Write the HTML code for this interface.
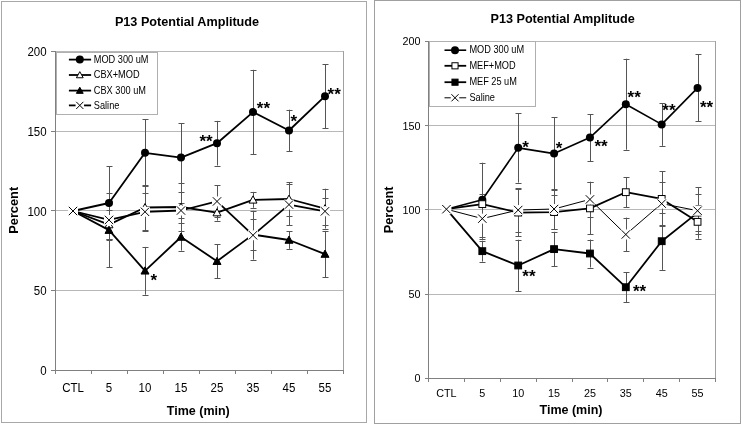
<!DOCTYPE html>
<html><head><meta charset="utf-8"><style>html,body{margin:0;padding:0;background:#fff;width:742px;height:424px;overflow:hidden}svg text{font-family:"Liberation Sans", sans-serif;fill:#000}</style></head>
<body>
<svg width="742" height="424" viewBox="0 0 742 424" style="display:block;will-change:transform" font-family='"Liberation Sans", sans-serif' shape-rendering="auto">
<rect width="742" height="424" fill="#fff"/>
<rect x="1.5" y="1.5" width="365" height="421" fill="#fff" stroke="#a8a8a8" stroke-width="1"/>
<line x1="55" y1="290.5" x2="343.5" y2="290.5" stroke="#b8b8b8" stroke-width="1"/>
<line x1="55" y1="210.5" x2="343.5" y2="210.5" stroke="#b8b8b8" stroke-width="1"/>
<line x1="55" y1="131.5" x2="343.5" y2="131.5" stroke="#b8b8b8" stroke-width="1"/>
<line x1="55" y1="51.5" x2="343.5" y2="51.5" stroke="#b8b8b8" stroke-width="1"/>
<line x1="343.5" y1="51" x2="343.5" y2="370" stroke="#a0a0a0" stroke-width="1"/>
<line x1="55.5" y1="51" x2="55.5" y2="370.5" stroke="#808080" stroke-width="1"/>
<line x1="55" y1="370.5" x2="344" y2="370.5" stroke="#808080" stroke-width="1"/>
<line x1="51" y1="370.5" x2="55" y2="370.5" stroke="#808080" stroke-width="1"/>
<text x="46.6" y="375.20" text-anchor="end" font-size="12" textLength="6.40" lengthAdjust="spacingAndGlyphs">0</text>
<line x1="51" y1="290.5" x2="55" y2="290.5" stroke="#808080" stroke-width="1"/>
<text x="46.6" y="295.45" text-anchor="end" font-size="12" textLength="12.79" lengthAdjust="spacingAndGlyphs">50</text>
<line x1="51" y1="210.5" x2="55" y2="210.5" stroke="#808080" stroke-width="1"/>
<text x="46.6" y="215.70" text-anchor="end" font-size="12" textLength="19.19" lengthAdjust="spacingAndGlyphs">100</text>
<line x1="51" y1="131.5" x2="55" y2="131.5" stroke="#808080" stroke-width="1"/>
<text x="46.6" y="135.95" text-anchor="end" font-size="12" textLength="19.19" lengthAdjust="spacingAndGlyphs">150</text>
<line x1="51" y1="51.5" x2="55" y2="51.5" stroke="#808080" stroke-width="1"/>
<text x="46.6" y="56.20" text-anchor="end" font-size="12" textLength="19.19" lengthAdjust="spacingAndGlyphs">200</text>
<line x1="55.5" y1="370" x2="55.5" y2="374" stroke="#808080" stroke-width="1"/>
<line x1="91.5" y1="370" x2="91.5" y2="374" stroke="#808080" stroke-width="1"/>
<line x1="127.5" y1="370" x2="127.5" y2="374" stroke="#808080" stroke-width="1"/>
<line x1="163.5" y1="370" x2="163.5" y2="374" stroke="#808080" stroke-width="1"/>
<line x1="199.5" y1="370" x2="199.5" y2="374" stroke="#808080" stroke-width="1"/>
<line x1="235.5" y1="370" x2="235.5" y2="374" stroke="#808080" stroke-width="1"/>
<line x1="271.5" y1="370" x2="271.5" y2="374" stroke="#808080" stroke-width="1"/>
<line x1="307.5" y1="370" x2="307.5" y2="374" stroke="#808080" stroke-width="1"/>
<line x1="343.5" y1="370" x2="343.5" y2="374" stroke="#808080" stroke-width="1"/>
<text x="73.0" y="392" text-anchor="middle" font-size="12" textLength="21.73" lengthAdjust="spacingAndGlyphs">CTL</text>
<text x="109.0" y="392" text-anchor="middle" font-size="12" textLength="6.40" lengthAdjust="spacingAndGlyphs">5</text>
<text x="145.0" y="392" text-anchor="middle" font-size="12" textLength="12.79" lengthAdjust="spacingAndGlyphs">10</text>
<text x="181.0" y="392" text-anchor="middle" font-size="12" textLength="12.79" lengthAdjust="spacingAndGlyphs">15</text>
<text x="217.0" y="392" text-anchor="middle" font-size="12" textLength="12.79" lengthAdjust="spacingAndGlyphs">25</text>
<text x="253.0" y="392" text-anchor="middle" font-size="12" textLength="12.79" lengthAdjust="spacingAndGlyphs">35</text>
<text x="289.0" y="392" text-anchor="middle" font-size="12" textLength="12.79" lengthAdjust="spacingAndGlyphs">45</text>
<text x="325.0" y="392" text-anchor="middle" font-size="12" textLength="12.79" lengthAdjust="spacingAndGlyphs">55</text>
<text x="187" y="26.3" text-anchor="middle" font-size="12.65" font-weight="bold">P13 Potential Amplitude</text>
<text transform="translate(18.3,210.3) rotate(-90)" text-anchor="middle" font-size="12.8" font-weight="bold">Percent</text>
<text x="198.3" y="414.9" text-anchor="middle" font-size="12.5" font-weight="bold">Time (min)</text>
<line x1="109.5" y1="166.3" x2="109.5" y2="239.7" stroke="#555555" stroke-width="1"/>
<line x1="106.5" y1="166.5" x2="112.5" y2="166.5" stroke="#555555" stroke-width="1"/>
<line x1="106.5" y1="240.5" x2="112.5" y2="240.5" stroke="#555555" stroke-width="1"/>
<line x1="145.5" y1="119.3" x2="145.5" y2="186.3" stroke="#555555" stroke-width="1"/>
<line x1="142.5" y1="119.5" x2="148.5" y2="119.5" stroke="#555555" stroke-width="1"/>
<line x1="142.5" y1="186.5" x2="148.5" y2="186.5" stroke="#555555" stroke-width="1"/>
<line x1="181.5" y1="123.3" x2="181.5" y2="191.9" stroke="#555555" stroke-width="1"/>
<line x1="178.5" y1="123.5" x2="184.5" y2="123.5" stroke="#555555" stroke-width="1"/>
<line x1="178.5" y1="192.5" x2="184.5" y2="192.5" stroke="#555555" stroke-width="1"/>
<line x1="217.5" y1="120.9" x2="217.5" y2="165.5" stroke="#555555" stroke-width="1"/>
<line x1="214.5" y1="121.5" x2="220.5" y2="121.5" stroke="#555555" stroke-width="1"/>
<line x1="214.5" y1="166.5" x2="220.5" y2="166.5" stroke="#555555" stroke-width="1"/>
<line x1="253.5" y1="69.8" x2="253.5" y2="154.4" stroke="#555555" stroke-width="1"/>
<line x1="250.5" y1="70.5" x2="256.5" y2="70.5" stroke="#555555" stroke-width="1"/>
<line x1="250.5" y1="154.5" x2="256.5" y2="154.5" stroke="#555555" stroke-width="1"/>
<line x1="289.5" y1="109.7" x2="289.5" y2="151.2" stroke="#555555" stroke-width="1"/>
<line x1="286.5" y1="110.5" x2="292.5" y2="110.5" stroke="#555555" stroke-width="1"/>
<line x1="286.5" y1="151.5" x2="292.5" y2="151.5" stroke="#555555" stroke-width="1"/>
<line x1="325.5" y1="64.3" x2="325.5" y2="128.1" stroke="#555555" stroke-width="1"/>
<line x1="322.5" y1="64.5" x2="328.5" y2="64.5" stroke="#555555" stroke-width="1"/>
<line x1="322.5" y1="128.5" x2="328.5" y2="128.5" stroke="#555555" stroke-width="1"/>
<line x1="109.5" y1="210.2" x2="109.5" y2="238.9" stroke="#555555" stroke-width="1"/>
<line x1="106.5" y1="210.5" x2="112.5" y2="210.5" stroke="#555555" stroke-width="1"/>
<line x1="106.5" y1="239.5" x2="112.5" y2="239.5" stroke="#555555" stroke-width="1"/>
<line x1="145.5" y1="185.2" x2="145.5" y2="229.8" stroke="#555555" stroke-width="1"/>
<line x1="142.5" y1="185.5" x2="148.5" y2="185.5" stroke="#555555" stroke-width="1"/>
<line x1="142.5" y1="230.5" x2="148.5" y2="230.5" stroke="#555555" stroke-width="1"/>
<line x1="181.5" y1="183.1" x2="181.5" y2="230.9" stroke="#555555" stroke-width="1"/>
<line x1="178.5" y1="183.5" x2="184.5" y2="183.5" stroke="#555555" stroke-width="1"/>
<line x1="178.5" y1="231.5" x2="184.5" y2="231.5" stroke="#555555" stroke-width="1"/>
<line x1="217.5" y1="204.6" x2="217.5" y2="220.6" stroke="#555555" stroke-width="1"/>
<line x1="214.5" y1="205.5" x2="220.5" y2="205.5" stroke="#555555" stroke-width="1"/>
<line x1="214.5" y1="221.5" x2="220.5" y2="221.5" stroke="#555555" stroke-width="1"/>
<line x1="253.5" y1="191.9" x2="253.5" y2="207.8" stroke="#555555" stroke-width="1"/>
<line x1="250.5" y1="192.5" x2="256.5" y2="192.5" stroke="#555555" stroke-width="1"/>
<line x1="250.5" y1="208.5" x2="256.5" y2="208.5" stroke="#555555" stroke-width="1"/>
<line x1="289.5" y1="182.3" x2="289.5" y2="215.8" stroke="#555555" stroke-width="1"/>
<line x1="286.5" y1="182.5" x2="292.5" y2="182.5" stroke="#555555" stroke-width="1"/>
<line x1="286.5" y1="216.5" x2="292.5" y2="216.5" stroke="#555555" stroke-width="1"/>
<line x1="325.5" y1="188.7" x2="325.5" y2="228.5" stroke="#555555" stroke-width="1"/>
<line x1="322.5" y1="189.5" x2="328.5" y2="189.5" stroke="#555555" stroke-width="1"/>
<line x1="322.5" y1="229.5" x2="328.5" y2="229.5" stroke="#555555" stroke-width="1"/>
<line x1="109.5" y1="193.1" x2="109.5" y2="267.1" stroke="#555555" stroke-width="1"/>
<line x1="106.5" y1="193.5" x2="112.5" y2="193.5" stroke="#555555" stroke-width="1"/>
<line x1="106.5" y1="267.5" x2="112.5" y2="267.5" stroke="#555555" stroke-width="1"/>
<line x1="145.5" y1="246.9" x2="145.5" y2="294.7" stroke="#555555" stroke-width="1"/>
<line x1="142.5" y1="247.5" x2="148.5" y2="247.5" stroke="#555555" stroke-width="1"/>
<line x1="142.5" y1="295.5" x2="148.5" y2="295.5" stroke="#555555" stroke-width="1"/>
<line x1="181.5" y1="223.4" x2="181.5" y2="250.6" stroke="#555555" stroke-width="1"/>
<line x1="178.5" y1="223.5" x2="184.5" y2="223.5" stroke="#555555" stroke-width="1"/>
<line x1="178.5" y1="251.5" x2="184.5" y2="251.5" stroke="#555555" stroke-width="1"/>
<line x1="217.5" y1="244.5" x2="217.5" y2="278.0" stroke="#555555" stroke-width="1"/>
<line x1="214.5" y1="244.5" x2="220.5" y2="244.5" stroke="#555555" stroke-width="1"/>
<line x1="214.5" y1="278.5" x2="220.5" y2="278.5" stroke="#555555" stroke-width="1"/>
<line x1="253.5" y1="219.5" x2="253.5" y2="249.8" stroke="#555555" stroke-width="1"/>
<line x1="250.5" y1="219.5" x2="256.5" y2="219.5" stroke="#555555" stroke-width="1"/>
<line x1="250.5" y1="250.5" x2="256.5" y2="250.5" stroke="#555555" stroke-width="1"/>
<line x1="289.5" y1="231.3" x2="289.5" y2="248.8" stroke="#555555" stroke-width="1"/>
<line x1="286.5" y1="231.5" x2="292.5" y2="231.5" stroke="#555555" stroke-width="1"/>
<line x1="286.5" y1="249.5" x2="292.5" y2="249.5" stroke="#555555" stroke-width="1"/>
<line x1="325.5" y1="230.9" x2="325.5" y2="277.2" stroke="#555555" stroke-width="1"/>
<line x1="322.5" y1="231.5" x2="328.5" y2="231.5" stroke="#555555" stroke-width="1"/>
<line x1="322.5" y1="277.5" x2="328.5" y2="277.5" stroke="#555555" stroke-width="1"/>
<line x1="109.5" y1="200.8" x2="109.5" y2="239.1" stroke="#555555" stroke-width="1"/>
<line x1="106.5" y1="201.5" x2="112.5" y2="201.5" stroke="#555555" stroke-width="1"/>
<line x1="106.5" y1="239.5" x2="112.5" y2="239.5" stroke="#555555" stroke-width="1"/>
<line x1="145.5" y1="192.7" x2="145.5" y2="230.9" stroke="#555555" stroke-width="1"/>
<line x1="142.5" y1="193.5" x2="148.5" y2="193.5" stroke="#555555" stroke-width="1"/>
<line x1="142.5" y1="231.5" x2="148.5" y2="231.5" stroke="#555555" stroke-width="1"/>
<line x1="181.5" y1="202.5" x2="181.5" y2="218.5" stroke="#555555" stroke-width="1"/>
<line x1="178.5" y1="203.5" x2="184.5" y2="203.5" stroke="#555555" stroke-width="1"/>
<line x1="178.5" y1="218.5" x2="184.5" y2="218.5" stroke="#555555" stroke-width="1"/>
<line x1="217.5" y1="185.5" x2="217.5" y2="217.4" stroke="#555555" stroke-width="1"/>
<line x1="214.5" y1="185.5" x2="220.5" y2="185.5" stroke="#555555" stroke-width="1"/>
<line x1="214.5" y1="217.5" x2="220.5" y2="217.5" stroke="#555555" stroke-width="1"/>
<line x1="253.5" y1="210.8" x2="253.5" y2="259.6" stroke="#555555" stroke-width="1"/>
<line x1="250.5" y1="211.5" x2="256.5" y2="211.5" stroke="#555555" stroke-width="1"/>
<line x1="250.5" y1="260.5" x2="256.5" y2="260.5" stroke="#555555" stroke-width="1"/>
<line x1="289.5" y1="183.9" x2="289.5" y2="225.4" stroke="#555555" stroke-width="1"/>
<line x1="286.5" y1="184.5" x2="292.5" y2="184.5" stroke="#555555" stroke-width="1"/>
<line x1="286.5" y1="225.5" x2="292.5" y2="225.5" stroke="#555555" stroke-width="1"/>
<line x1="325.5" y1="197.8" x2="325.5" y2="224.9" stroke="#555555" stroke-width="1"/>
<line x1="322.5" y1="198.5" x2="328.5" y2="198.5" stroke="#555555" stroke-width="1"/>
<line x1="322.5" y1="225.5" x2="328.5" y2="225.5" stroke="#555555" stroke-width="1"/>
<polyline points="73.0,211.0 109.0,203.0 145.0,152.8 181.0,157.6 217.0,143.2 253.0,112.1 289.0,130.5 325.0,96.2" fill="none" stroke="#000" stroke-width="1.8" stroke-linejoin="round"/>
<circle cx="73.00" cy="211.00" r="4.00" fill="#000"/>
<circle cx="109.00" cy="203.03" r="4.00" fill="#000"/>
<circle cx="145.00" cy="152.78" r="4.00" fill="#000"/>
<circle cx="181.00" cy="157.57" r="4.00" fill="#000"/>
<circle cx="217.00" cy="143.21" r="4.00" fill="#000"/>
<circle cx="253.00" cy="112.11" r="4.00" fill="#000"/>
<circle cx="289.00" cy="130.45" r="4.00" fill="#000"/>
<circle cx="325.00" cy="96.16" r="4.00" fill="#000"/>
<polyline points="73.0,211.0 109.0,224.6 145.0,207.5 181.0,207.0 217.0,212.6 253.0,199.8 289.0,199.0 325.0,208.6" fill="none" stroke="#000" stroke-width="1.8" stroke-linejoin="round"/>
<polygon points="73.00,207.04 77.00,214.24 69.00,214.24" fill="#fff" stroke="#000" stroke-width="1" stroke-linejoin="miter"/>
<polygon points="109.00,220.60 113.00,227.80 105.00,227.80" fill="#fff" stroke="#000" stroke-width="1" stroke-linejoin="miter"/>
<polygon points="145.00,203.53 149.00,210.73 141.00,210.73" fill="#fff" stroke="#000" stroke-width="1" stroke-linejoin="miter"/>
<polygon points="181.00,203.05 185.00,210.25 177.00,210.25" fill="#fff" stroke="#000" stroke-width="1" stroke-linejoin="miter"/>
<polygon points="217.00,208.63 221.00,215.84 213.00,215.84" fill="#fff" stroke="#000" stroke-width="1" stroke-linejoin="miter"/>
<polygon points="253.00,195.88 257.00,203.08 249.00,203.08" fill="#fff" stroke="#000" stroke-width="1" stroke-linejoin="miter"/>
<polygon points="289.00,195.08 293.00,202.28 285.00,202.28" fill="#fff" stroke="#000" stroke-width="1" stroke-linejoin="miter"/>
<polygon points="325.00,204.65 329.00,211.85 321.00,211.85" fill="#fff" stroke="#000" stroke-width="1" stroke-linejoin="miter"/>
<polyline points="73.0,211.0 109.0,230.1 145.0,270.8 181.0,237.0 217.0,261.2 253.0,234.6 289.0,240.0 325.0,254.1" fill="none" stroke="#000" stroke-width="1.8" stroke-linejoin="round"/>
<polygon points="73.00,207.04 77.00,214.24 69.00,214.24" fill="#000" stroke="#000" stroke-width="1" stroke-linejoin="miter"/>
<polygon points="109.00,226.18 113.00,233.38 105.00,233.38" fill="#000" stroke="#000" stroke-width="1" stroke-linejoin="miter"/>
<polygon points="145.00,266.85 149.00,274.05 141.00,274.05" fill="#000" stroke="#000" stroke-width="1" stroke-linejoin="miter"/>
<polygon points="181.00,233.04 185.00,240.24 177.00,240.24" fill="#000" stroke="#000" stroke-width="1" stroke-linejoin="miter"/>
<polygon points="217.00,257.28 221.00,264.48 213.00,264.48" fill="#000" stroke="#000" stroke-width="1" stroke-linejoin="miter"/>
<polygon points="253.00,230.65 257.00,237.85 249.00,237.85" fill="#000" stroke="#000" stroke-width="1" stroke-linejoin="miter"/>
<polygon points="289.00,236.07 293.00,243.27 285.00,243.27" fill="#000" stroke="#000" stroke-width="1" stroke-linejoin="miter"/>
<polygon points="325.00,250.10 329.00,257.31 321.00,257.31" fill="#000" stroke="#000" stroke-width="1" stroke-linejoin="miter"/>
<polyline points="73.0,211.0 109.0,219.9 145.0,211.8 181.0,210.5 217.0,201.4 253.0,235.2 289.0,204.6 325.0,211.3" fill="none" stroke="#000" stroke-width="1.8" stroke-linejoin="round"/>
<rect x="68.00" y="206.00" width="10.00" height="10.00" fill="#fff"/>
<path d="M68.80,206.80L77.20,215.20M77.20,206.80L68.80,215.20" stroke="#000" stroke-width="1" fill="none"/>
<rect x="104.00" y="214.93" width="10.00" height="10.00" fill="#fff"/>
<path d="M104.80,215.73L113.20,224.13M113.20,215.73L104.80,224.13" stroke="#000" stroke-width="1" fill="none"/>
<rect x="140.00" y="206.80" width="10.00" height="10.00" fill="#fff"/>
<path d="M140.80,207.60L149.20,216.00M149.20,207.60L140.80,216.00" stroke="#000" stroke-width="1" fill="none"/>
<rect x="176.00" y="205.52" width="10.00" height="10.00" fill="#fff"/>
<path d="M176.80,206.32L185.20,214.72M185.20,206.32L176.80,214.72" stroke="#000" stroke-width="1" fill="none"/>
<rect x="212.00" y="196.43" width="10.00" height="10.00" fill="#fff"/>
<path d="M212.80,197.23L221.20,205.63M221.20,197.23L212.80,205.63" stroke="#000" stroke-width="1" fill="none"/>
<rect x="248.00" y="230.24" width="10.00" height="10.00" fill="#fff"/>
<path d="M248.80,231.04L257.20,239.44M257.20,231.04L248.80,239.44" stroke="#000" stroke-width="1" fill="none"/>
<rect x="284.00" y="199.62" width="10.00" height="10.00" fill="#fff"/>
<path d="M284.80,200.42L293.20,208.82M293.20,200.42L284.80,208.82" stroke="#000" stroke-width="1" fill="none"/>
<rect x="320.00" y="206.32" width="10.00" height="10.00" fill="#fff"/>
<path d="M320.80,207.12L329.20,215.52M329.20,207.12L320.80,215.52" stroke="#000" stroke-width="1" fill="none"/>
<text x="199.5" y="146.8" font-size="17" font-weight="bold">**</text>
<text x="256.8" y="113.80000000000001" font-size="17" font-weight="bold">**</text>
<text x="290.5" y="127.30000000000001" font-size="17" font-weight="bold">*</text>
<text x="327.6" y="99.5" font-size="17" font-weight="bold">**</text>
<text x="150.5" y="285.49999999999994" font-size="17" font-weight="bold">*</text>
<rect x="56.5" y="52.5" width="101" height="62" fill="#fff" stroke="#b0b0b0" stroke-width="1"/>
<line x1="68.9" y1="59.6" x2="91.1" y2="59.6" stroke="#000" stroke-width="1.8"/>
<circle cx="79.80" cy="59.60" r="4.00" fill="#000"/>
<text x="93.8" y="62.80" font-size="10.2" textLength="54.7" lengthAdjust="spacingAndGlyphs">MOD 300 uM</text>
<line x1="68.9" y1="75.0" x2="91.1" y2="75.0" stroke="#000" stroke-width="1.8"/>
<polygon points="79.80,71.63 83.20,77.75 76.40,77.75" fill="#fff" stroke="#000" stroke-width="1" stroke-linejoin="miter"/>
<text x="93.8" y="78.20" font-size="10.2" textLength="45.8" lengthAdjust="spacingAndGlyphs">CBX+MOD</text>
<line x1="68.9" y1="90.6" x2="91.1" y2="90.6" stroke="#000" stroke-width="1.8"/>
<polygon points="79.80,87.23 83.20,93.35 76.40,93.35" fill="#000" stroke="#000" stroke-width="1" stroke-linejoin="miter"/>
<text x="93.8" y="93.80" font-size="10.2" textLength="52.2" lengthAdjust="spacingAndGlyphs">CBX 300 uM</text>
<line x1="68.9" y1="105.4" x2="91.1" y2="105.4" stroke="#000" stroke-width="1.8"/>
<rect x="75.55" y="101.15" width="8.50" height="8.50" fill="#fff"/>
<path d="M76.23,101.83L83.37,108.97M83.37,101.83L76.23,108.97" stroke="#000" stroke-width="1" fill="none"/>
<text x="93.8" y="108.60" font-size="10.2" textLength="25.6" lengthAdjust="spacingAndGlyphs">Saline</text>
<rect x="374.5" y="0.5" width="366" height="423" fill="#fff" stroke="#a0a0a0" stroke-width="1"/>
<line x1="428" y1="294.5" x2="715.5" y2="294.5" stroke="#b8b8b8" stroke-width="1"/>
<line x1="428" y1="209.5" x2="715.5" y2="209.5" stroke="#b8b8b8" stroke-width="1"/>
<line x1="428" y1="125.5" x2="715.5" y2="125.5" stroke="#b8b8b8" stroke-width="1"/>
<line x1="428" y1="41.5" x2="715.5" y2="41.5" stroke="#b8b8b8" stroke-width="1"/>
<line x1="715.5" y1="41" x2="715.5" y2="378" stroke="#a0a0a0" stroke-width="1"/>
<line x1="428.5" y1="41" x2="428.5" y2="378.5" stroke="#808080" stroke-width="1"/>
<line x1="428" y1="378.5" x2="716" y2="378.5" stroke="#808080" stroke-width="1"/>
<line x1="425" y1="378.5" x2="428" y2="378.5" stroke="#808080" stroke-width="1"/>
<text x="420.5" y="382.30" text-anchor="end" font-size="11.5" textLength="6.01" lengthAdjust="spacingAndGlyphs">0</text>
<line x1="425" y1="294.5" x2="428" y2="294.5" stroke="#808080" stroke-width="1"/>
<text x="420.5" y="298.05" text-anchor="end" font-size="11.5" textLength="12.01" lengthAdjust="spacingAndGlyphs">50</text>
<line x1="425" y1="209.5" x2="428" y2="209.5" stroke="#808080" stroke-width="1"/>
<text x="420.5" y="213.80" text-anchor="end" font-size="11.5" textLength="18.02" lengthAdjust="spacingAndGlyphs">100</text>
<line x1="425" y1="125.5" x2="428" y2="125.5" stroke="#808080" stroke-width="1"/>
<text x="420.5" y="129.55" text-anchor="end" font-size="11.5" textLength="18.02" lengthAdjust="spacingAndGlyphs">150</text>
<line x1="425" y1="41.5" x2="428" y2="41.5" stroke="#808080" stroke-width="1"/>
<text x="420.5" y="45.30" text-anchor="end" font-size="11.5" textLength="18.02" lengthAdjust="spacingAndGlyphs">200</text>
<line x1="428.5" y1="378" x2="428.5" y2="382" stroke="#808080" stroke-width="1"/>
<line x1="464.5" y1="378" x2="464.5" y2="382" stroke="#808080" stroke-width="1"/>
<line x1="500.5" y1="378" x2="500.5" y2="382" stroke="#808080" stroke-width="1"/>
<line x1="536.5" y1="378" x2="536.5" y2="382" stroke="#808080" stroke-width="1"/>
<line x1="572.5" y1="378" x2="572.5" y2="382" stroke="#808080" stroke-width="1"/>
<line x1="607.5" y1="378" x2="607.5" y2="382" stroke="#808080" stroke-width="1"/>
<line x1="643.5" y1="378" x2="643.5" y2="382" stroke="#808080" stroke-width="1"/>
<line x1="679.5" y1="378" x2="679.5" y2="382" stroke="#808080" stroke-width="1"/>
<line x1="715.5" y1="378" x2="715.5" y2="382" stroke="#808080" stroke-width="1"/>
<text x="446.4" y="397.4" text-anchor="middle" font-size="11.5" textLength="20.40" lengthAdjust="spacingAndGlyphs">CTL</text>
<text x="482.3" y="397.4" text-anchor="middle" font-size="11.5" textLength="6.01" lengthAdjust="spacingAndGlyphs">5</text>
<text x="518.2" y="397.4" text-anchor="middle" font-size="11.5" textLength="12.01" lengthAdjust="spacingAndGlyphs">10</text>
<text x="554.1" y="397.4" text-anchor="middle" font-size="11.5" textLength="12.01" lengthAdjust="spacingAndGlyphs">15</text>
<text x="589.9" y="397.4" text-anchor="middle" font-size="11.5" textLength="12.01" lengthAdjust="spacingAndGlyphs">25</text>
<text x="625.8" y="397.4" text-anchor="middle" font-size="11.5" textLength="12.01" lengthAdjust="spacingAndGlyphs">35</text>
<text x="661.7" y="397.4" text-anchor="middle" font-size="11.5" textLength="12.01" lengthAdjust="spacingAndGlyphs">45</text>
<text x="697.6" y="397.4" text-anchor="middle" font-size="11.5" textLength="12.01" lengthAdjust="spacingAndGlyphs">55</text>
<text x="562.6" y="23.0" text-anchor="middle" font-size="12.65" font-weight="bold">P13 Potential Amplitude</text>
<text transform="translate(393,209.9) rotate(-90)" text-anchor="middle" font-size="12.8" font-weight="bold">Percent</text>
<text x="571" y="414" text-anchor="middle" font-size="12.5" font-weight="bold">Time (min)</text>
<line x1="482.5" y1="162.7" x2="482.5" y2="236.8" stroke="#555555" stroke-width="1"/>
<line x1="479.5" y1="163.5" x2="485.5" y2="163.5" stroke="#555555" stroke-width="1"/>
<line x1="479.5" y1="237.5" x2="485.5" y2="237.5" stroke="#555555" stroke-width="1"/>
<line x1="518.5" y1="113.2" x2="518.5" y2="182.6" stroke="#555555" stroke-width="1"/>
<line x1="515.5" y1="113.5" x2="521.5" y2="113.5" stroke="#555555" stroke-width="1"/>
<line x1="515.5" y1="183.5" x2="521.5" y2="183.5" stroke="#555555" stroke-width="1"/>
<line x1="554.5" y1="117.4" x2="554.5" y2="189.8" stroke="#555555" stroke-width="1"/>
<line x1="551.5" y1="117.5" x2="557.5" y2="117.5" stroke="#555555" stroke-width="1"/>
<line x1="551.5" y1="190.5" x2="557.5" y2="190.5" stroke="#555555" stroke-width="1"/>
<line x1="590.5" y1="114.2" x2="590.5" y2="161.0" stroke="#555555" stroke-width="1"/>
<line x1="587.5" y1="114.5" x2="593.5" y2="114.5" stroke="#555555" stroke-width="1"/>
<line x1="587.5" y1="161.5" x2="593.5" y2="161.5" stroke="#555555" stroke-width="1"/>
<line x1="626.5" y1="58.7" x2="626.5" y2="149.7" stroke="#555555" stroke-width="1"/>
<line x1="623.5" y1="59.5" x2="629.5" y2="59.5" stroke="#555555" stroke-width="1"/>
<line x1="623.5" y1="150.5" x2="629.5" y2="150.5" stroke="#555555" stroke-width="1"/>
<line x1="662.5" y1="103.0" x2="662.5" y2="145.8" stroke="#555555" stroke-width="1"/>
<line x1="659.5" y1="103.5" x2="665.5" y2="103.5" stroke="#555555" stroke-width="1"/>
<line x1="659.5" y1="146.5" x2="665.5" y2="146.5" stroke="#555555" stroke-width="1"/>
<line x1="698.5" y1="54.3" x2="698.5" y2="121.4" stroke="#555555" stroke-width="1"/>
<line x1="695.5" y1="54.5" x2="701.5" y2="54.5" stroke="#555555" stroke-width="1"/>
<line x1="695.5" y1="121.5" x2="701.5" y2="121.5" stroke="#555555" stroke-width="1"/>
<line x1="482.5" y1="193.7" x2="482.5" y2="214.6" stroke="#555555" stroke-width="1"/>
<line x1="479.5" y1="194.5" x2="485.5" y2="194.5" stroke="#555555" stroke-width="1"/>
<line x1="479.5" y1="215.5" x2="485.5" y2="215.5" stroke="#555555" stroke-width="1"/>
<line x1="518.5" y1="189.0" x2="518.5" y2="236.2" stroke="#555555" stroke-width="1"/>
<line x1="515.5" y1="189.5" x2="521.5" y2="189.5" stroke="#555555" stroke-width="1"/>
<line x1="515.5" y1="236.5" x2="521.5" y2="236.5" stroke="#555555" stroke-width="1"/>
<line x1="554.5" y1="195.2" x2="554.5" y2="228.9" stroke="#555555" stroke-width="1"/>
<line x1="551.5" y1="195.5" x2="557.5" y2="195.5" stroke="#555555" stroke-width="1"/>
<line x1="551.5" y1="229.5" x2="557.5" y2="229.5" stroke="#555555" stroke-width="1"/>
<line x1="590.5" y1="182.2" x2="590.5" y2="234.5" stroke="#555555" stroke-width="1"/>
<line x1="587.5" y1="182.5" x2="593.5" y2="182.5" stroke="#555555" stroke-width="1"/>
<line x1="587.5" y1="234.5" x2="593.5" y2="234.5" stroke="#555555" stroke-width="1"/>
<line x1="626.5" y1="177.4" x2="626.5" y2="207.0" stroke="#555555" stroke-width="1"/>
<line x1="623.5" y1="177.5" x2="629.5" y2="177.5" stroke="#555555" stroke-width="1"/>
<line x1="623.5" y1="207.5" x2="629.5" y2="207.5" stroke="#555555" stroke-width="1"/>
<line x1="662.5" y1="171.5" x2="662.5" y2="226.4" stroke="#555555" stroke-width="1"/>
<line x1="659.5" y1="171.5" x2="665.5" y2="171.5" stroke="#555555" stroke-width="1"/>
<line x1="659.5" y1="226.5" x2="665.5" y2="226.5" stroke="#555555" stroke-width="1"/>
<line x1="698.5" y1="205.0" x2="698.5" y2="238.7" stroke="#555555" stroke-width="1"/>
<line x1="695.5" y1="205.5" x2="701.5" y2="205.5" stroke="#555555" stroke-width="1"/>
<line x1="695.5" y1="239.5" x2="701.5" y2="239.5" stroke="#555555" stroke-width="1"/>
<line x1="482.5" y1="240.7" x2="482.5" y2="261.6" stroke="#555555" stroke-width="1"/>
<line x1="479.5" y1="241.5" x2="485.5" y2="241.5" stroke="#555555" stroke-width="1"/>
<line x1="479.5" y1="262.5" x2="485.5" y2="262.5" stroke="#555555" stroke-width="1"/>
<line x1="518.5" y1="239.7" x2="518.5" y2="291.3" stroke="#555555" stroke-width="1"/>
<line x1="515.5" y1="240.5" x2="521.5" y2="240.5" stroke="#555555" stroke-width="1"/>
<line x1="515.5" y1="291.5" x2="521.5" y2="291.5" stroke="#555555" stroke-width="1"/>
<line x1="554.5" y1="231.8" x2="554.5" y2="266.5" stroke="#555555" stroke-width="1"/>
<line x1="551.5" y1="232.5" x2="557.5" y2="232.5" stroke="#555555" stroke-width="1"/>
<line x1="551.5" y1="266.5" x2="557.5" y2="266.5" stroke="#555555" stroke-width="1"/>
<line x1="590.5" y1="239.5" x2="590.5" y2="267.5" stroke="#555555" stroke-width="1"/>
<line x1="587.5" y1="240.5" x2="593.5" y2="240.5" stroke="#555555" stroke-width="1"/>
<line x1="587.5" y1="268.5" x2="593.5" y2="268.5" stroke="#555555" stroke-width="1"/>
<line x1="626.5" y1="272.2" x2="626.5" y2="302.2" stroke="#555555" stroke-width="1"/>
<line x1="623.5" y1="272.5" x2="629.5" y2="272.5" stroke="#555555" stroke-width="1"/>
<line x1="623.5" y1="302.5" x2="629.5" y2="302.5" stroke="#555555" stroke-width="1"/>
<line x1="662.5" y1="212.6" x2="662.5" y2="269.9" stroke="#555555" stroke-width="1"/>
<line x1="659.5" y1="213.5" x2="665.5" y2="213.5" stroke="#555555" stroke-width="1"/>
<line x1="659.5" y1="270.5" x2="665.5" y2="270.5" stroke="#555555" stroke-width="1"/>
<line x1="698.5" y1="194.0" x2="698.5" y2="231.1" stroke="#555555" stroke-width="1"/>
<line x1="695.5" y1="194.5" x2="701.5" y2="194.5" stroke="#555555" stroke-width="1"/>
<line x1="695.5" y1="231.5" x2="701.5" y2="231.5" stroke="#555555" stroke-width="1"/>
<line x1="482.5" y1="198.4" x2="482.5" y2="238.9" stroke="#555555" stroke-width="1"/>
<line x1="479.5" y1="198.5" x2="485.5" y2="198.5" stroke="#555555" stroke-width="1"/>
<line x1="479.5" y1="239.5" x2="485.5" y2="239.5" stroke="#555555" stroke-width="1"/>
<line x1="518.5" y1="188.1" x2="518.5" y2="231.9" stroke="#555555" stroke-width="1"/>
<line x1="515.5" y1="188.5" x2="521.5" y2="188.5" stroke="#555555" stroke-width="1"/>
<line x1="515.5" y1="232.5" x2="521.5" y2="232.5" stroke="#555555" stroke-width="1"/>
<line x1="554.5" y1="188.8" x2="554.5" y2="229.3" stroke="#555555" stroke-width="1"/>
<line x1="551.5" y1="189.5" x2="557.5" y2="189.5" stroke="#555555" stroke-width="1"/>
<line x1="551.5" y1="229.5" x2="557.5" y2="229.5" stroke="#555555" stroke-width="1"/>
<line x1="590.5" y1="181.7" x2="590.5" y2="217.1" stroke="#555555" stroke-width="1"/>
<line x1="587.5" y1="182.5" x2="593.5" y2="182.5" stroke="#555555" stroke-width="1"/>
<line x1="587.5" y1="217.5" x2="593.5" y2="217.5" stroke="#555555" stroke-width="1"/>
<line x1="626.5" y1="217.6" x2="626.5" y2="251.3" stroke="#555555" stroke-width="1"/>
<line x1="623.5" y1="218.5" x2="629.5" y2="218.5" stroke="#555555" stroke-width="1"/>
<line x1="623.5" y1="251.5" x2="629.5" y2="251.5" stroke="#555555" stroke-width="1"/>
<line x1="662.5" y1="182.2" x2="662.5" y2="225.0" stroke="#555555" stroke-width="1"/>
<line x1="659.5" y1="182.5" x2="665.5" y2="182.5" stroke="#555555" stroke-width="1"/>
<line x1="659.5" y1="225.5" x2="665.5" y2="225.5" stroke="#555555" stroke-width="1"/>
<line x1="698.5" y1="187.1" x2="698.5" y2="234.3" stroke="#555555" stroke-width="1"/>
<line x1="695.5" y1="187.5" x2="701.5" y2="187.5" stroke="#555555" stroke-width="1"/>
<line x1="695.5" y1="234.5" x2="701.5" y2="234.5" stroke="#555555" stroke-width="1"/>
<polyline points="446.4,209.2 482.3,199.8 518.2,147.9 554.1,153.6 589.9,137.6 625.8,104.2 661.7,124.4 697.6,87.9" fill="none" stroke="#000" stroke-width="1.6" stroke-linejoin="round"/>
<circle cx="446.44" cy="209.20" r="4.00" fill="#000"/>
<circle cx="482.31" cy="199.76" r="4.00" fill="#000"/>
<circle cx="518.19" cy="147.87" r="4.00" fill="#000"/>
<circle cx="554.06" cy="153.59" r="4.00" fill="#000"/>
<circle cx="589.94" cy="137.59" r="4.00" fill="#000"/>
<circle cx="625.81" cy="104.22" r="4.00" fill="#000"/>
<circle cx="661.69" cy="124.44" r="4.00" fill="#000"/>
<circle cx="697.56" cy="87.88" r="4.00" fill="#000"/>
<polyline points="446.4,209.2 482.3,204.1 518.2,212.6 554.1,212.1 589.9,208.4 625.8,192.2 661.7,198.9 697.6,221.8" fill="none" stroke="#000" stroke-width="1.8" stroke-linejoin="round"/>
<rect x="443.04" y="205.80" width="6.80" height="6.80" fill="#fff" stroke="#000" stroke-width="1"/>
<rect x="478.91" y="200.74" width="6.80" height="6.80" fill="#fff" stroke="#000" stroke-width="1"/>
<rect x="514.79" y="209.17" width="6.80" height="6.80" fill="#fff" stroke="#000" stroke-width="1"/>
<rect x="550.66" y="208.66" width="6.80" height="6.80" fill="#fff" stroke="#000" stroke-width="1"/>
<rect x="586.54" y="204.96" width="6.80" height="6.80" fill="#fff" stroke="#000" stroke-width="1"/>
<rect x="622.41" y="188.78" width="6.80" height="6.80" fill="#fff" stroke="#000" stroke-width="1"/>
<rect x="658.29" y="195.52" width="6.80" height="6.80" fill="#fff" stroke="#000" stroke-width="1"/>
<rect x="694.16" y="218.44" width="6.80" height="6.80" fill="#fff" stroke="#000" stroke-width="1"/>
<polyline points="446.4,209.2 482.3,251.2 518.2,265.5 554.1,249.1 589.9,253.5 625.8,287.2 661.7,241.2 697.6,212.6" fill="none" stroke="#000" stroke-width="1.8" stroke-linejoin="round"/>
<rect x="443.04" y="205.80" width="6.80" height="6.80" fill="#000" stroke="#000" stroke-width="1"/>
<rect x="478.91" y="247.76" width="6.80" height="6.80" fill="#000" stroke="#000" stroke-width="1"/>
<rect x="514.79" y="262.08" width="6.80" height="6.80" fill="#000" stroke="#000" stroke-width="1"/>
<rect x="550.66" y="245.73" width="6.80" height="6.80" fill="#000" stroke="#000" stroke-width="1"/>
<rect x="586.54" y="250.12" width="6.80" height="6.80" fill="#000" stroke="#000" stroke-width="1"/>
<rect x="622.41" y="283.82" width="6.80" height="6.80" fill="#000" stroke="#000" stroke-width="1"/>
<rect x="658.29" y="237.81" width="6.80" height="6.80" fill="#000" stroke="#000" stroke-width="1"/>
<rect x="694.16" y="209.17" width="6.80" height="6.80" fill="#000" stroke="#000" stroke-width="1"/>
<polyline points="446.4,209.2 482.3,218.6 518.2,210.0 554.1,209.0 589.9,199.4 625.8,234.5 661.7,203.6 697.6,210.7" fill="none" stroke="#000" stroke-width="1" stroke-linejoin="round"/>
<rect x="441.44" y="204.20" width="10.00" height="10.00" fill="#fff"/>
<path d="M442.24,205.00L450.64,213.40M450.64,205.00L442.24,213.40" stroke="#000" stroke-width="1" fill="none"/>
<rect x="477.31" y="213.64" width="10.00" height="10.00" fill="#fff"/>
<path d="M478.11,214.44L486.51,222.84M486.51,214.44L478.11,222.84" stroke="#000" stroke-width="1" fill="none"/>
<rect x="513.19" y="205.04" width="10.00" height="10.00" fill="#fff"/>
<path d="M513.99,205.84L522.39,214.24M522.39,205.84L513.99,214.24" stroke="#000" stroke-width="1" fill="none"/>
<rect x="549.06" y="204.03" width="10.00" height="10.00" fill="#fff"/>
<path d="M549.86,204.83L558.26,213.23M558.26,204.83L549.86,213.23" stroke="#000" stroke-width="1" fill="none"/>
<rect x="584.94" y="194.43" width="10.00" height="10.00" fill="#fff"/>
<path d="M585.74,195.23L594.14,203.63M594.14,195.23L585.74,203.63" stroke="#000" stroke-width="1" fill="none"/>
<rect x="620.81" y="229.47" width="10.00" height="10.00" fill="#fff"/>
<path d="M621.61,230.28L630.01,238.67M630.01,230.28L621.61,238.67" stroke="#000" stroke-width="1" fill="none"/>
<rect x="656.69" y="198.64" width="10.00" height="10.00" fill="#fff"/>
<path d="M657.49,199.44L665.89,207.84M665.89,199.44L657.49,207.84" stroke="#000" stroke-width="1" fill="none"/>
<rect x="692.56" y="205.72" width="10.00" height="10.00" fill="#fff"/>
<path d="M693.36,206.52L701.76,214.92M701.76,206.52L693.36,214.92" stroke="#000" stroke-width="1" fill="none"/>
<text x="522.3" y="153.10000000000002" font-size="17" font-weight="bold">*</text>
<text x="555.8" y="154.10000000000002" font-size="17" font-weight="bold">*</text>
<text x="594.4" y="151.5" font-size="17" font-weight="bold">**</text>
<text x="627.6" y="103.1" font-size="17" font-weight="bold">**</text>
<text x="662.3" y="116.30000000000001" font-size="17" font-weight="bold">**</text>
<text x="699.9" y="113.1" font-size="17" font-weight="bold">**</text>
<text x="522.3" y="281.49999999999994" font-size="17" font-weight="bold">**</text>
<text x="633.0" y="297.29999999999995" font-size="17" font-weight="bold">**</text>
<rect x="429.5" y="41.5" width="106" height="65" fill="#fff" stroke="#b0b0b0" stroke-width="1"/>
<line x1="444.5" y1="50.2" x2="466.2" y2="50.2" stroke="#000" stroke-width="1.6"/>
<circle cx="455.00" cy="50.20" r="4.00" fill="#000"/>
<text x="469.4" y="53.40" font-size="10.2" textLength="54.7" lengthAdjust="spacingAndGlyphs">MOD 300 uM</text>
<line x1="444.5" y1="65.8" x2="466.2" y2="65.8" stroke="#000" stroke-width="1.8"/>
<rect x="451.94" y="62.74" width="6.12" height="6.12" fill="#fff" stroke="#000" stroke-width="1"/>
<text x="469.4" y="69.00" font-size="10.2" textLength="46.3" lengthAdjust="spacingAndGlyphs">MEF+MOD</text>
<line x1="444.5" y1="82.2" x2="466.2" y2="82.2" stroke="#000" stroke-width="1.8"/>
<rect x="451.94" y="79.14" width="6.12" height="6.12" fill="#000" stroke="#000" stroke-width="1"/>
<text x="469.4" y="85.40" font-size="10.2" textLength="47.5" lengthAdjust="spacingAndGlyphs">MEF 25 uM</text>
<line x1="444.5" y1="97.8" x2="466.2" y2="97.8" stroke="#000" stroke-width="1"/>
<rect x="450.75" y="93.55" width="8.50" height="8.50" fill="#fff"/>
<path d="M451.43,94.23L458.57,101.37M458.57,94.23L451.43,101.37" stroke="#000" stroke-width="1" fill="none"/>
<text x="469.4" y="101.00" font-size="10.2" textLength="25.6" lengthAdjust="spacingAndGlyphs">Saline</text>
</svg>
</body></html>
